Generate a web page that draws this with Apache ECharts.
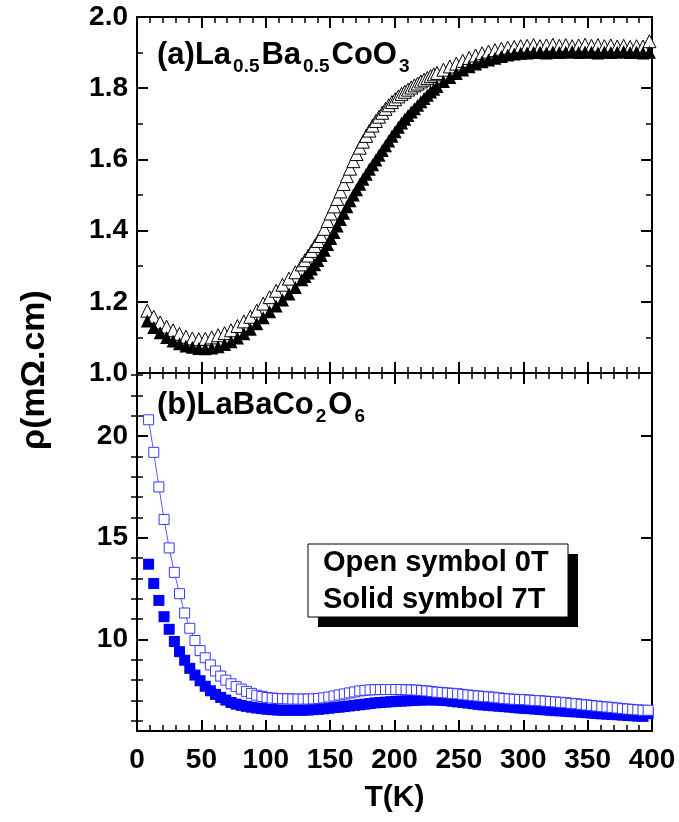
<!DOCTYPE html>
<html><head><meta charset="utf-8">
<script src="https://cdn.jsdelivr.net/npm/echarts@6/dist/echarts.min.js"></script>
<style>html,body{margin:0;padding:0;background:#fff}#c{width:679px;height:822px}</style>
</head><body><div id="c"></div>
<script>
// ---- Panel (a): La0.5Ba0.5CoO3 ----
const tempA = [
  8,13,18,23,28,33,38,43,48,53,58,63,68,73,78,83,88,93,98,103,108,113,118,123,
  128,130.5,133,135.5,138,140.5,143,145.5,148,150.5,153,155.5,158,160.5,163,165.5,168,170.5,
  173,175.5,178,180.5,183,185.5,188,190.5,193,195.5,198,200.5,203,205.5,208,210.5,213,215.5,
  218,220.5,223,225.5,228,230.5,233,
  238,243,248,253,258,263,268,273,278,283,288,293,298,303,308,313,318,323,328,333,
  338,343,348,353,358,363,368,373,378,383,388,393,398];
const rhoA_0T = [
  1.175,1.158,1.142,1.130,1.120,1.110,1.102,1.097,1.095,1.096,1.100,1.106,1.112,1.120,1.132,1.145,1.158,1.175,1.195,1.213,1.231,1.248,1.265,1.283,
  1.305,1.317,1.330,1.343,1.357,1.371,1.385,1.405,1.427,1.448,1.468,1.489,1.510,1.531,1.553,1.574,1.595,1.615,
  1.633,1.650,1.666,1.681,1.695,1.708,1.720,1.731,1.742,1.752,1.761,1.769,1.777,1.784,1.790,1.796,1.802,1.808,
  1.813,1.819,1.824,1.829,1.834,1.839,1.843,
  1.852,1.861,1.869,1.877,1.885,1.892,1.898,1.903,1.907,1.911,1.914,1.916,1.918,1.919,1.921,1.918,1.920,1.922,1.919,1.921,
  1.918,1.920,1.922,1.919,1.921,1.918,1.920,1.917,1.919,1.916,1.918,1.917,1.932];
const rhoA_7T = [
  1.146,1.128,1.113,1.100,1.090,1.082,1.076,1.072,1.069,1.068,1.070,1.074,1.080,1.088,1.098,1.110,1.123,1.138,1.155,1.172,1.188,1.205,1.222,1.240,
  1.262,1.271,1.281,1.292,1.304,1.316,1.330,1.345,1.361,1.378,1.395,1.413,1.431,1.449,1.467,1.484,1.500,1.515,
  1.530,1.544,1.558,1.572,1.585,1.598,1.612,1.625,1.638,1.652,1.665,1.678,1.690,1.702,1.713,1.723,1.733,1.742,
  1.752,1.762,1.771,1.780,1.789,1.797,1.805,
  1.819,1.830,1.841,1.851,1.860,1.868,1.874,1.879,1.884,1.889,1.893,1.896,1.898,1.899,1.900,1.901,1.899,1.902,1.900,1.901,
  1.903,1.900,1.902,1.901,1.899,1.902,1.900,1.901,1.903,1.900,1.902,1.899,1.901];

// ---- Panel (b): LaBaCo2O6 ----
const tempB = [
  9,13,17,21,25,29,33,37,41,45,
  49,53,57,61,65,69,73,77,81,85,
  89,93,97,101,105,109,113,117,121,125,
  129,133,137,141,145,149,153,157,161,165,
  169,173,177,181,185,189,193,197,201,205,
  209,213,217,221,225,229,233,237,241,245,
  249,253,257,261,265,269,273,277,281,285,
  289,293,297,301,305,309,313,317,321,325,
  329,333,337,341,345,349,353,357,361,365,
  369,373,377,381,385,389,393,397];
const rhoB_0T = [
  20.8,19.2,17.5,15.9,14.5,13.3,12.25,11.3,10.55,9.95,
  9.45,9.1,8.75,8.45,8.2,8.0,7.82,7.68,7.56,7.45,
  7.35,7.26,7.2,7.15,7.12,7.1,7.09,7.08,7.07,7.07,
  7.07,7.07,7.08,7.1,7.13,7.17,7.22,7.27,7.32,7.37,
  7.42,7.47,7.5,7.52,7.53,7.54,7.54,7.54,7.54,7.54,
  7.53,7.52,7.51,7.49,7.47,7.44,7.41,7.39,7.37,7.35,
  7.33,7.3,7.27,7.24,7.22,7.2,7.18,7.16,7.13,7.1,
  7.08,7.06,7.05,7.04,7.02,7.0,6.99,6.97,6.95,6.93,
  6.91,6.89,6.86,6.84,6.81,6.78,6.76,6.73,6.7,6.68,
  6.66,6.63,6.6,6.58,6.56,6.54,6.52,6.52];
const rhoB_7T = [
  13.7,12.75,11.92,11.12,10.5,9.9,9.4,8.98,8.58,8.25,
  7.97,7.7,7.48,7.3,7.15,7.02,6.9,6.82,6.76,6.71,
  6.67,6.63,6.6,6.57,6.55,6.53,6.52,6.52,6.52,6.52,
  6.52,6.53,6.55,6.57,6.59,6.62,6.65,6.67,6.7,6.73,
  6.76,6.79,6.82,6.85,6.88,6.9,6.92,6.94,6.96,6.97,
  6.98,7.0,7.01,7.02,7.03,7.03,7.02,7.01,6.99,6.96,
  6.93,6.9,6.87,6.84,6.81,6.78,6.76,6.74,6.72,6.7,
  6.68,6.66,6.63,6.61,6.6,6.58,6.56,6.54,6.52,6.5,
  6.49,6.47,6.45,6.44,6.42,6.4,6.38,6.36,6.34,6.33,
  6.31,6.3,6.28,6.27,6.25,6.23,6.22,6.35];

// tick values
const yMajorB = [10, 15, 20];
const yMinorB = [6,7,8,9,11,12,13,14,16,17,18,19,21,22,23];

const FONT = "'Liberation Sans', Arial, sans-serif";
const zip = (x, y) => x.map((t, i) => [t, y[i]]);

const line = {show: true, onZero: false, lineStyle: {color: '#000', width: 2}};
const tickMaj = {show: true, inside: true, length: 11, lineStyle: {color: '#000', width: 2}};
const tickMin = {show: true, inside: true, length: 6, lineStyle: {color: '#000', width: 1.5}};
const lbl = {color: '#000', fontFamily: FONT, fontWeight: 'bold', fontSize: 28};

function xAx(grid, pos, showLabel) {
  const a = {type: 'value', gridIndex: grid, position: pos, min: 0, max: 400, interval: 50,
    axisLine: line, axisTick: tickMaj,
    minorTick: Object.assign({splitNumber: 5}, tickMin),
    splitLine: {show: false}, minorSplitLine: {show: false},
    axisLabel: Object.assign({show: showLabel, margin: 15}, lbl)};
  if (showLabel) {
    a.name = 'T(K)'; a.nameLocation = 'middle'; a.nameGap = 52;
    a.nameTextStyle = {color: '#000', fontFamily: FONT, fontWeight: 'bold', fontSize: 30};
  }
  return a;
}
function yAxA(pos, showLabel) {
  return {type: 'value', gridIndex: 0, position: pos, min: 1.0, max: 2.0, interval: 0.2,
    axisLine: line, axisTick: tickMaj,
    minorTick: Object.assign({splitNumber: 2}, tickMin),
    splitLine: {show: false}, minorSplitLine: {show: false},
    axisLabel: Object.assign({show: showLabel, margin: 9, formatter: v => v.toFixed(1)}, lbl)};
}
function yAxB(pos, showLabel, minor) {
  return {type: 'value', gridIndex: 1, position: pos, min: 5.5, max: 23.1,
    axisLine: minor ? {show: false} : line,
    axisTick: Object.assign({customValues: minor ? yMinorB : yMajorB}, minor ? tickMin : tickMaj),
    splitLine: {show: false},
    axisLabel: Object.assign({show: showLabel, margin: 9, customValues: yMajorB}, lbl)};
}

const chart = echarts.init(document.getElementById('c'));
chart.setOption({
  animation: false,
  backgroundColor: '#fff',
  grid: [
    {left: 137, top: 17, width: 515, height: 356},
    {left: 137, top: 373, width: 515, height: 358}
  ],
  xAxis: [xAx(0, 'bottom', false), xAx(0, 'top', false), xAx(1, 'bottom', true), xAx(1, 'top', false)],
  yAxis: [yAxA('left', true), yAxA('right', false),
          yAxB('left', true, false), yAxB('left', false, true),
          yAxB('right', false, false), yAxB('right', false, true)],
  series: [
    {type: 'scatter', xAxisIndex: 0, yAxisIndex: 0, data: zip(tempA, rhoA_0T),
     symbol: 'triangle', symbolSize: 13,
     itemStyle: {color: '#fff', borderColor: '#000', borderWidth: 1, opacity: 1}},
    {type: 'scatter', xAxisIndex: 0, yAxisIndex: 0, data: zip(tempA, rhoA_7T),
     symbol: 'triangle', symbolSize: 13,
     itemStyle: {color: '#000', opacity: 1}},
    {type: 'line', xAxisIndex: 2, yAxisIndex: 2, data: zip(tempB, rhoB_0T),
     symbol: 'rect', symbolSize: 10, showSymbol: true, showAllSymbol: true,
     lineStyle: {color: '#5a5aff', width: 1},
     itemStyle: {color: '#fff', borderColor: '#3838ff', borderWidth: 1}},
    {type: 'scatter', xAxisIndex: 2, yAxisIndex: 2, data: zip(tempB, rhoB_7T),
     symbol: 'rect', symbolSize: 11,
     itemStyle: {color: '#0000ff', opacity: 1}}
  ],
  graphic: [
    {type: 'text', x: 157, y: 55, z: 10, style: {
      text: '{m|(a)La}{s|0.5}{m|Ba}{s|0.5}{m|CoO}{s|3}',
      align: 'left', verticalAlign: 'middle',
      rich: {
        m: {fontSize: 31, fontWeight: 'bold', fontFamily: FONT, fill: '#000', lineHeight: 36},
        s: {fontSize: 19, fontWeight: 'bold', fontFamily: FONT, fill: '#000', lineHeight: 19, padding: [24, 2, 0, 2]}
      }}},
    {type: 'text', x: 157, y: 405, z: 10, style: {
      text: '{m|(b)LaBaCo}{s|2}{m|O}{s|6}',
      align: 'left', verticalAlign: 'middle',
      rich: {
        m: {fontSize: 31, fontWeight: 'bold', fontFamily: FONT, fill: '#000', lineHeight: 36},
        s: {fontSize: 19, fontWeight: 'bold', fontFamily: FONT, fill: '#000', lineHeight: 19, padding: [24, 2, 0, 2]}
      }}},
    {type: 'rect', z: 10, shape: {x: 318, y: 554, width: 260, height: 73}, style: {fill: '#000'}},
    {type: 'rect', z: 11, shape: {x: 308, y: 544, width: 260, height: 73}, style: {fill: '#fff', stroke: '#000', lineWidth: 1}},
    {type: 'text', z: 12, x: 323, y: 563, style: {text: 'Open symbol 0T', fontSize: 29, fontWeight: 'bold', fontFamily: FONT, fill: '#000', align: 'left', verticalAlign: 'middle'}},
    {type: 'text', z: 12, x: 323, y: 600, style: {text: 'Solid symbol 7T', fontSize: 29, fontWeight: 'bold', fontFamily: FONT, fill: '#000', align: 'left', verticalAlign: 'middle'}},
    {type: 'text', z: 12, x: 35, y: 370, rotation: Math.PI / 2, style: {text: 'ρ(mΩ.cm)', fontSize: 34, fontWeight: 'bold', fontFamily: FONT, fill: '#000', align: 'center', verticalAlign: 'middle'}}
  ]
});
</script></body></html>
